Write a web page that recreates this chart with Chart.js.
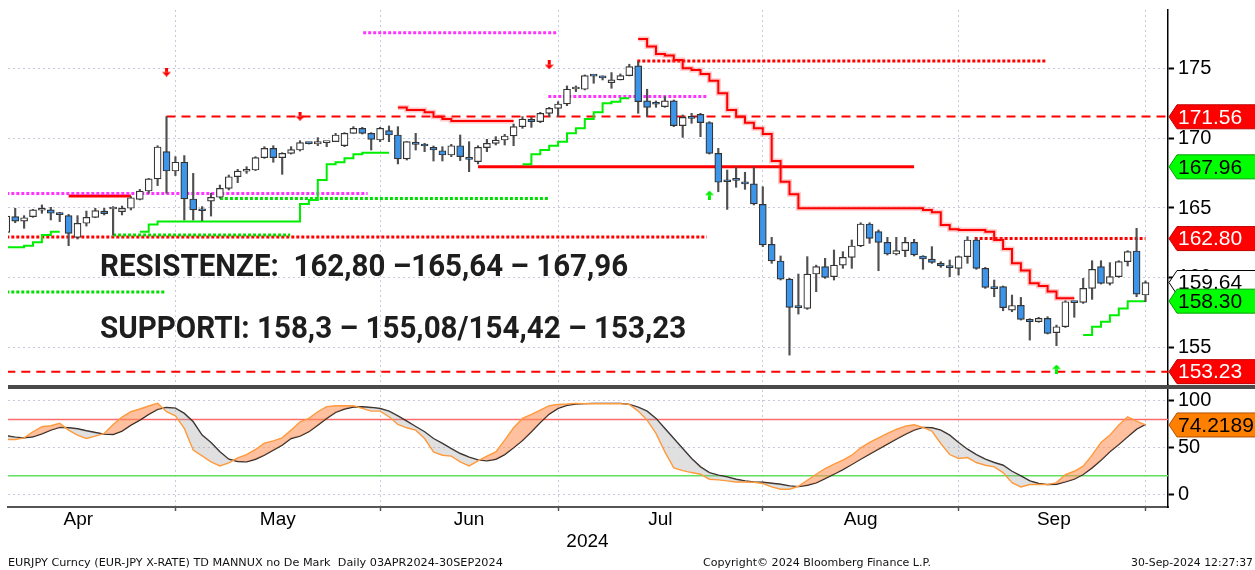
<!DOCTYPE html>
<html>
<head>
<meta charset="utf-8">
<title>EURJPY TD</title>
<script src="https://cdn.jsdelivr.net/npm/chart.js@4.4.1/dist/chart.umd.min.js"></script>
<style>
  html, body { margin: 0; padding: 0; background: #ffffff; }
  #wrap { position: relative; width: 1255px; height: 570px; overflow: hidden; }
  #chart { position: absolute; left: 0; top: 0; }
  .note { position: absolute; left: 100px; font-family: Roboto, "Liberation Sans", sans-serif; font-weight: 700; font-size: 31px; line-height: 31px; color: #1e1e1e; white-space: nowrap; transform-origin: 0 0; }
  .foot { position: absolute; top: 556px; font-family: "DejaVu Sans", sans-serif; font-size: 10px; line-height: 14px; color: #111; white-space: nowrap; transform-origin: 0 0; }
</style>
</head>
<body>
<div id="wrap">
  <canvas id="chart" width="1255" height="570"></canvas>
  <div class="note" style="top:250px" data-w="528">RESISTENZE:&nbsp; 162,80 –165,64 – 167,96</div>
  <div class="note" style="top:312px" data-w="586">SUPPORTI: 158,3 – 155,08/154,42 – 153,23</div>
  <div class="foot" style="left:8px" data-w="495">EURJPY Curncy (EUR-JPY X-RATE) TD MANNUX no De Mark&nbsp; Daily 03APR2024-30SEP2024</div>
  <div class="foot" style="left:703px" data-w="228">Copyright© 2024 Bloomberg Finance L.P.</div>
  <div class="foot" style="left:1131px" data-w="122">30-Sep-2024 12:27:37</div>
</div>
<script>
// EURJPY daily candles, 03 Apr - 30 Sep 2024, one entry per trading day (index 0..128)
const monthNames = ['Apr', 'May', 'Jun', 'Jul', 'Aug', 'Sep'];
const monthLabelAt = [8.1, 30.5, 52.0, 73.5, 96.0, 117.7];
const monthEnds = [19, 42, 62, 85, 107, 128];
const yearLabel = '2024';
const yearLabelAt = 65.3;

const priceTicks = [155, 160, 165, 170, 175];
const oscTicks = [0, 50, 100];

const opens = [
  163.25, 164.38, 164.06, 164.38, 164.84, 164.86, 164.56, 164.45, 162.89, 163.90,
  164.33, 164.78, 164.93, 164.74, 164.98, 165.62, 166.22, 167.09, 169.05, 167.66,
  168.29, 165.65, 164.83, 165.50, 165.77, 166.41, 167.25, 167.64, 167.73, 168.62,
  169.29, 168.62, 168.93, 169.17, 169.67, 169.60, 169.70, 169.77, 169.48, 170.37,
  170.73, 170.37, 169.89, 170.56, 170.25, 168.53, 169.72, 169.50, 169.36, 169.12,
  168.81, 169.48, 168.64, 168.33, 169.34, 169.65, 169.89, 170.18, 170.85, 171.40,
  171.21, 171.81, 172.17, 172.48, 173.56, 173.54, 174.52, 174.40, 174.02, 174.21,
  174.52, 175.22, 172.70, 172.50, 172.29, 172.70, 170.92, 171.49, 171.74, 171.14,
  168.93, 167.01, 167.03, 166.89, 166.73, 165.26, 162.39, 161.19, 159.89, 157.87,
  157.78, 160.25, 160.78, 160.06, 160.89, 161.45, 162.27, 163.85, 163.30, 162.53,
  161.69, 161.93, 162.53, 161.55, 161.33, 161.02, 160.75, 160.66, 161.50, 162.70,
  160.66, 159.25, 159.34, 157.66, 158.00, 156.99, 156.82, 157.06, 156.03, 156.46,
  158.23, 158.21, 159.22, 160.78, 159.58, 160.06, 161.14, 161.91, 158.74
];
const highs = [
  164.62, 164.98, 164.45, 164.90, 165.22, 165.05, 164.69, 164.54, 164.45, 164.78,
  164.98, 164.98, 165.10, 165.14, 165.82, 166.34, 167.13, 169.48, 171.58, 168.69,
  168.77, 167.49, 165.10, 166.06, 166.65, 167.37, 167.78, 167.97, 168.69, 169.41,
  169.48, 168.98, 169.41, 169.84, 169.70, 170.06, 169.77, 170.37, 170.42, 170.85,
  170.80, 170.42, 170.80, 170.90, 170.85, 169.77, 170.37, 169.65, 169.46, 169.41,
  169.58, 170.25, 169.77, 169.48, 169.94, 170.13, 170.30, 171.04, 171.57, 171.52,
  171.88, 172.24, 172.65, 173.78, 173.78, 174.57, 174.57, 174.50, 174.74, 174.64,
  175.34, 175.53, 173.54, 172.70, 173.01, 172.77, 171.69, 171.81, 171.81, 171.21,
  169.29, 167.73, 167.93, 167.57, 167.93, 166.53, 162.89, 161.55, 159.94, 160.25,
  161.50, 160.89, 161.38, 161.98, 161.86, 162.70, 163.94, 163.94, 163.42, 162.89,
  162.89, 162.89, 162.75, 161.57, 162.22, 161.14, 161.26, 161.55, 162.94, 162.82,
  160.73, 159.82, 159.39, 158.74, 158.57, 157.04, 157.14, 157.18, 156.58, 158.33,
  158.26, 159.94, 161.21, 161.21, 161.07, 161.21, 161.93, 163.54, 159.75
];
const lows = [
  163.18, 163.94, 163.54, 164.33, 164.62, 164.14, 164.02, 162.29, 162.77, 163.70,
  164.30, 164.50, 163.06, 164.50, 164.86, 165.58, 166.06, 166.61, 166.06, 167.33,
  164.14, 164.14, 164.09, 164.42, 165.70, 166.30, 166.82, 167.49, 167.69, 168.57,
  168.29, 167.42, 168.88, 169.10, 169.60, 169.48, 169.41, 169.77, 169.41, 170.37,
  170.32, 169.17, 169.77, 169.77, 168.17, 168.45, 169.17, 169.05, 168.38, 168.38,
  168.69, 168.41, 167.61, 168.17, 169.05, 169.53, 169.53, 169.48, 170.73, 170.80,
  171.14, 171.57, 171.57, 172.36, 173.37, 173.49, 173.97, 174.21, 173.61, 174.21,
  174.50, 171.81, 171.57, 172.24, 172.24, 170.85, 170.08, 171.09, 170.13, 168.88,
  166.17, 164.90, 166.49, 166.34, 165.22, 162.22, 161.02, 159.82, 154.42, 157.37,
  157.71, 158.98, 159.94, 159.82, 160.66, 160.66, 162.22, 162.46, 160.49, 161.62,
  161.62, 161.50, 161.55, 160.59, 161.02, 160.73, 160.06, 160.18, 161.02, 160.59,
  159.22, 158.62, 157.61, 157.54, 156.94, 155.50, 156.78, 155.94, 155.10, 156.41,
  157.14, 158.14, 158.43, 159.53, 159.46, 160.01, 160.83, 158.62, 158.26
];
const closes = [
  164.42, 164.06, 164.30, 164.86, 164.87, 164.62, 164.52, 163.18, 163.90, 164.33,
  164.81, 164.60, 164.95, 164.98, 165.74, 166.22, 167.09, 169.39, 167.66, 168.29,
  165.65, 164.86, 164.80, 165.77, 166.41, 167.25, 167.66, 167.68, 168.62, 169.29,
  168.62, 168.93, 169.20, 169.70, 169.63, 169.77, 169.72, 170.25, 170.37, 170.73,
  170.37, 169.94, 170.73, 170.25, 168.53, 169.77, 169.58, 169.46, 169.17, 168.81,
  169.48, 168.69, 168.50, 169.36, 169.65, 169.89, 170.18, 170.85, 171.40, 171.21,
  171.81, 172.17, 172.48, 173.54, 173.60, 174.52, 174.48, 174.36, 174.21, 174.52,
  175.17, 172.65, 172.24, 172.46, 172.70, 170.92, 171.52, 171.45, 171.14, 168.93,
  166.85, 166.89, 166.99, 166.73, 165.29, 162.34, 161.19, 159.89, 157.85, 157.83,
  160.25, 160.78, 160.01, 160.89, 161.45, 162.27, 163.85, 162.82, 162.53, 161.69,
  161.93, 162.53, 161.62, 161.33, 161.09, 160.83, 160.71, 161.50, 162.70, 160.66,
  159.29, 159.20, 157.83, 157.99, 156.99, 156.82, 157.06, 155.98, 156.46, 158.26,
  158.19, 159.22, 160.59, 159.58, 160.06, 161.14, 161.86, 158.81, 159.64
];

// TD support / resistance step lines: [day index, level] where the level changes
const supportSegs = [
  [[0, 162.17], [2, 162.29], [3, 162.53], [4, 163.06], [5, 163.30], [6, 163.30]],
  [[15, 163.30], [16, 163.82], [17, 164.02], [33, 165.29], [34, 165.58], [35, 167.01], [36, 168.14],
   [37, 168.29], [38, 168.57], [39, 168.86], [40, 168.98], [43, 168.98]],
  [[58, 168.14], [59, 168.86], [60, 169.17], [61, 169.48], [62, 169.77], [63, 170.37], [64, 170.73],
   [65, 171.40], [66, 171.88], [67, 172.53], [68, 172.65], [69, 172.89], [70, 172.89]],
  [[121, 155.86], [122, 156.46], [123, 156.82], [124, 157.29], [125, 157.77], [126, 158.30], [128, 158.30]]
];
const resistSegs = [
  [[44, 172.22], [45, 172.05], [47, 171.88], [48, 171.57], [49, 171.40], [50, 171.26], [57, 171.26]],
  [[71, 177.16], [72, 176.61], [73, 176.08], [74, 175.96], [75, 175.65], [76, 175.05], [77, 174.93],
   [78, 174.64], [79, 174.16], [80, 173.25], [81, 172.05], [82, 171.57], [83, 171.14], [84, 170.73],
   [85, 170.32], [86, 168.38], [87, 166.89], [88, 165.98], [89, 164.98], [103, 164.86], [104, 164.70],
   [105, 163.78], [106, 163.47], [107, 163.42], [110, 163.30], [111, 162.70], [112, 162.05], [113, 161.02],
   [114, 160.50], [115, 159.59], [116, 159.39], [117, 158.99], [118, 158.51], [120, 158.51]]
];

// horizontal levels: [price, from index, to index]
const magentaLevels = [[166.05, 0, 40.6], [177.61, 40.1, 61.9], [173.01, 60.9, 78.8]];
const greenDotLevels = [[165.69, 24, 60.9], [163.06, 12, 31.9], [158.96, 0, 17.8]];
const redDotLevels = [[162.92, 0, 78.7], [162.80, 108.8, 128], [175.58, 70.9, 116.9]];
const redDashLevels = [[171.58, 18, 130.5], [153.23, 0, 130.5]];
const redSolidLevels = [[165.86, 7, 14], [167.96, 53, 102]];

const sellArrows = [[18, 174.78], [33, 171.6], [61, 175.3]];
const buyArrows = [[79, 165.93], [118, 153.42]];

// stochastic oscillator (lower pane)
const stochK = [
  58.8, 58.8, 60.5, 67.0, 72.3, 73.4, 75.9, 68.7, 63.4, 59.8,
  62.3, 65.2, 74.8, 82.6, 88.3, 91.2, 94.4, 97.2, 88.3, 84.0,
  70.5, 47.4, 41.3, 34.9, 30.6, 33.8, 39.2, 42.7, 48.1, 54.8,
  57.3, 60.5, 68.7, 77.6, 81.2, 88.3, 93.7, 94.7, 94.7, 94.7,
  91.9, 89.0, 89.0, 83.0, 74.8, 71.2, 68.7, 59.8, 45.6, 42.0,
  41.0, 34.9, 30.6, 36.0, 41.0, 45.6, 58.0, 71.2, 81.2, 85.5,
  90.1, 94.7, 96.2, 96.5, 97.2, 96.9, 96.9, 96.9, 96.9, 96.9,
  96.2, 89.0, 79.4, 65.2, 45.6, 28.5, 25.6, 23.5, 21.7, 16.4,
  15.7, 14.6, 13.5, 13.5, 13.2, 11.8, 8.2, 5.7, 5.7, 8.9,
  15.3, 21.7, 27.8, 32.4, 36.7, 42.0, 49.9, 55.6, 60.5, 65.2,
  69.4, 73.0, 74.4, 71.6, 67.7, 54.5, 42.7, 38.5, 39.5, 34.2,
  31.3, 29.6, 23.5, 12.8, 8.2, 10.7, 10.7, 10.7, 12.8, 21.4,
  24.9, 30.3, 42.0, 55.6, 63.4, 74.1, 83.0, 78.3, 74.2
];
const stochD = [
  62.7, 61.3, 60.5, 61.6, 64.8, 68.7, 71.6, 71.2, 70.2, 68.0,
  66.2, 64.5, 64.1, 67.7, 74.1, 79.4, 85.5, 90.8, 92.9, 92.2,
  86.5, 77.6, 63.4, 55.6, 45.6, 37.7, 35.3, 34.9, 37.7, 42.0,
  47.4, 52.7, 59.8, 62.3, 67.0, 74.0, 81.2, 87.6, 91.2, 93.3,
  93.7, 92.9, 91.8, 89.0, 84.0, 78.3, 72.6, 67.0, 59.8, 54.5,
  49.1, 43.8, 39.9, 37.0, 36.0, 37.7, 42.7, 49.9, 57.7, 67.0,
  76.9, 85.8, 91.9, 95.1, 96.5, 96.9, 97.2, 97.2, 97.2, 97.2,
  96.2, 93.3, 89.0, 81.2, 70.5, 59.8, 49.1, 38.5, 29.6, 23.5,
  20.7, 18.9, 16.4, 14.6, 13.5, 13.2, 12.1, 11.0, 9.3, 8.5,
  10.0, 12.5, 17.1, 21.7, 26.7, 32.1, 37.7, 43.1, 48.4, 53.8,
  59.1, 64.1, 68.7, 71.6, 71.2, 68.7, 63.4, 55.6, 48.4, 42.7,
  37.7, 34.2, 31.3, 24.9, 19.9, 14.6, 11.8, 10.7, 11.0, 13.5,
  16.4, 21.4, 28.5, 36.7, 45.6, 53.4, 61.6, 69.8, 74.8
];
const overbought = 80;
const oversold = 20;

const priceTags = [171.56, 167.96, 162.80, 159.64, 158.30, 153.23];
const oscTag = 74.2189;

// ---------------------------------------------------------------------------

const X_MIN = 0.19, X_MAX = 130.53;
const GRID = '#c6c9dc';

const tagStyles = [
  { bg: '#ff0000', fg: '#ffffff', line: '#c00000' },
  { bg: '#00ff00', fg: '#000000', line: '#00a000' },
  { bg: '#ff0000', fg: '#ffffff', line: '#c00000' },
  { bg: '#ffffff', fg: '#000000', line: '#000000' },
  { bg: '#00ff00', fg: '#000000', line: '#00a000' },
  { bg: '#ff0000', fg: '#ffffff', line: '#c00000' }
];
const oscTagStyle = { bg: '#ff8000', fg: '#000000', line: '#b05000' };

Chart.defaults.font.family = '"Liberation Sans", Arial, sans-serif';

function pts(list) {
  return list.map(p => ({ x: p[0], y: p[1] }));
}

function levelLines(levels, color, width, dash) {
  return levels.map(l => ({
    type: 'line',
    data: [{ x: l[1], y: l[0] }, { x: l[2], y: l[0] }],
    borderColor: color,
    borderWidth: width,
    borderDash: dash,
    borderCapStyle: 'butt',
    pointRadius: 0,
    yAxisID: 'y',
    order: 6
  }));
}

function arrowImg(color, up) {
  const c = document.createElement('canvas');
  c.width = 9; c.height = 9;
  const g = c.getContext('2d');
  g.fillStyle = color;
  g.beginPath();
  if (up) {
    g.moveTo(4.5, 0); g.lineTo(9, 4.5); g.lineTo(0, 4.5);
    g.closePath(); g.fill();
    g.fillRect(3, 4.5, 3, 4.5);
  } else {
    g.fillRect(3, 0, 3, 4.5);
    g.moveTo(0, 4.5); g.lineTo(9, 4.5); g.lineTo(4.5, 9);
    g.closePath(); g.fill();
  }
  return c;
}

function drawTag(ctx, x0, y, text, st) {
  const h = 24, right = ctx.canvas.width + 2;
  ctx.save();
  ctx.beginPath();
  ctx.moveTo(x0, y);
  ctx.lineTo(x0 + 8, y - h / 2);
  ctx.lineTo(right, y - h / 2);
  ctx.lineTo(right, y + h / 2);
  ctx.lineTo(x0 + 8, y + h / 2);
  ctx.closePath();
  ctx.fillStyle = st.bg;
  ctx.fill();
  ctx.lineWidth = 1;
  ctx.strokeStyle = st.line;
  ctx.stroke();
  ctx.fillStyle = st.fg;
  ctx.font = '21px "Liberation Sans", Arial, sans-serif';
  ctx.textAlign = 'left';
  ctx.textBaseline = 'middle';
  ctx.fillText(text, x0 + 9, y + 1);
  ctx.restore();
}

const overlay = {
  id: 'overlay',
  afterDraw(chart) {
    const ctx = chart.ctx;
    const area = chart.chartArea;
    const y = chart.scales.y, y2 = chart.scales.y2;
    const x0 = area.right + 1;
    priceTags.forEach((v, i) => drawTag(ctx, x0, y.getPixelForValue(v), v.toFixed(2), tagStyles[i]));
    drawTag(ctx, x0, y2.getPixelForValue(oscTag), oscTag.toFixed(4), oscTagStyle);
    // pane separator
    ctx.save();
    ctx.fillStyle = '#4a4a4a';
    ctx.fillRect(area.left, y.bottom, chart.width - area.left, 4);
    ctx.restore();
  }
};

const datasets = [];

// oscillator: index 0 = slow line (fill target), index 1 = fast line
datasets.push({
  type: 'line', data: stochD.map((v, i) => ({ x: i, y: v })),
  borderColor: '#222222', borderWidth: 1.4, pointRadius: 0, yAxisID: 'y2', order: 3
});
datasets.push({
  type: 'line', data: stochK.map((v, i) => ({ x: i, y: v })),
  borderColor: '#ff9a3c', borderWidth: 1.4, pointRadius: 0, yAxisID: 'y2', order: 2,
  fill: { target: 0, above: 'rgba(255,140,80,0.55)', below: 'rgba(160,160,160,0.32)' }
});
datasets.push({
  type: 'line', data: [{ x: X_MIN, y: overbought }, { x: X_MAX, y: overbought }],
  borderColor: '#ff6b6b', borderWidth: 1.5, pointRadius: 0, yAxisID: 'y2', order: 8
});
datasets.push({
  type: 'line', data: [{ x: X_MIN, y: oversold }, { x: X_MAX, y: oversold }],
  borderColor: '#5fe05f', borderWidth: 1.5, pointRadius: 0, yAxisID: 'y2', order: 8
});

// horizontal levels
datasets.push(...levelLines(magentaLevels, '#ff33ff', 3, [3, 2]));
datasets.push(...levelLines(greenDotLevels, '#00e000', 3, [3, 2]));
datasets.push(...levelLines(redDotLevels, '#ff0000', 3, [3, 2]));
datasets.push(...levelLines(redDashLevels, '#ff0000', 2, [9, 6]));
datasets.push(...levelLines(redSolidLevels, '#ff0000', 3, []));

// TD step lines
resistSegs.forEach(seg => {
  datasets.push({
    type: 'line', data: pts(seg), stepped: true, borderColor: 'rgba(255,70,70,0.3)',
    borderWidth: 5, pointRadius: 0, yAxisID: 'y', order: 5
  });
  datasets.push({
    type: 'line', data: pts(seg), stepped: true, borderColor: '#ff0000',
    borderWidth: 2, pointRadius: 0, yAxisID: 'y', order: 4
  });
});
supportSegs.forEach(seg => {
  datasets.push({
    type: 'line', data: pts(seg), stepped: true, borderColor: '#00ee00',
    borderWidth: 2, pointRadius: 0, yAxisID: 'y', order: 4
  });
});

// candles: wick then body
datasets.push({
  type: 'bar', data: lows.map((l, i) => ({ x: i, y: [l, highs[i]] })),
  backgroundColor: '#505050', borderWidth: 0, barThickness: 1.5, grouped: false,
  yAxisID: 'y', order: 1, clip: 0
});
datasets.push({
  type: 'bar', data: opens.map((o, i) => ({ x: i, y: [o, closes[i]] })),
  backgroundColor: opens.map((o, i) => closes[i] >= o ? '#ffffff' : '#3d95ea'),
  borderColor: '#333333', borderWidth: 1.2, borderSkipped: false,
  barThickness: 7, minBarLength: 2, grouped: false,
  yAxisID: 'y', order: 0, clip: 0
});

// TD arrows
datasets.push({
  type: 'line', data: pts(sellArrows), showLine: false,
  pointStyle: arrowImg('#ff0000', false), yAxisID: 'y', order: 0
});
datasets.push({
  type: 'line', data: pts(buyArrows), showLine: false,
  pointStyle: arrowImg('#00ee00', true), yAxisID: 'y', order: 0
});

const xLabels = new Map();
monthLabelAt.forEach((v, i) => xLabels.set(v, monthNames[i]));
xLabels.set(yearLabelAt, ['', yearLabel]);

new Chart(document.getElementById('chart'), {
  data: { datasets: datasets },
  options: {
    responsive: false,
    animation: false,
    devicePixelRatio: 1,
    layout: { padding: { left: 8, top: 10, right: 0, bottom: 0 } },
    plugins: { legend: { display: false }, tooltip: { enabled: false } },
    scales: {
      x: {
        type: 'linear', position: 'bottom', min: X_MIN, max: X_MAX, bounds: 'data', offset: false,
        afterBuildTicks: s => {
          s.ticks = monthEnds.concat(monthLabelAt, [yearLabelAt]).map(v => ({ value: v }));
        },
        afterFit: s => { s.height = 63; s.paddingLeft = 0; s.paddingRight = 0; },
        grid: {
          offset: false,
          color: c => monthEnds.includes(c.tick && c.tick.value) ? GRID : 'rgba(0,0,0,0)',
          tickColor: c => monthEnds.includes(c.tick && c.tick.value) ? '#555555' : 'rgba(0,0,0,0)',
          tickLength: 4, tickWidth: 1.5
        },
        border: { display: true, color: '#555555', width: 2, dash: [2, 3] },
        ticks: {
          autoSkip: false, maxRotation: 0, minRotation: 0, padding: -3, color: '#000',
          font: { size: 19, lineHeight: 1.2 },
          callback: v => xLabels.has(v) ? xLabels.get(v) : ''
        }
      },
      y: {
        type: 'linear', position: 'right', stack: 'panes', stackWeight: 375,
        min: 152.27, max: 179.24, bounds: 'data',
        afterBuildTicks: s => { s.ticks = priceTicks.map(v => ({ value: v })); },
        afterFit: s => { s.width = 87; s.paddingTop = 0; s.paddingBottom = 0; },
        grid: { color: GRID, tickColor: '#000', tickLength: 6, tickWidth: 2 },
        border: { display: true, color: '#000', width: 1.5, dash: [2, 3] },
        ticks: { color: '#000', padding: 4, font: { size: 20 }, callback: v => String(v) }
      },
      y2: {
        type: 'linear', position: 'right', stack: 'panes', stackWeight: 122,
        min: -13.2, max: 116.8, bounds: 'data',
        afterBuildTicks: s => { s.ticks = oscTicks.map(v => ({ value: v })); },
        afterFit: s => { s.width = 87; s.paddingTop = 0; s.paddingBottom = 0; },
        grid: { color: GRID, tickColor: '#000', tickLength: 6, tickWidth: 2 },
        border: { display: true, color: '#000', width: 1.5, dash: [2, 3] },
        ticks: { color: '#000', padding: 4, font: { size: 20 }, callback: v => String(v) }
      }
    }
  },
  plugins: [overlay]
});

function fitText() {
  document.querySelectorAll('[data-w]').forEach(el => {
    el.style.transform = 'none';
    const k = +el.dataset.w / el.getBoundingClientRect().width;
    el.style.transform = 'scaleX(' + k.toFixed(3) + ')';
  });
}
fitText();
if (document.fonts) document.fonts.ready.then(fitText);
</script>
</body>
</html>
